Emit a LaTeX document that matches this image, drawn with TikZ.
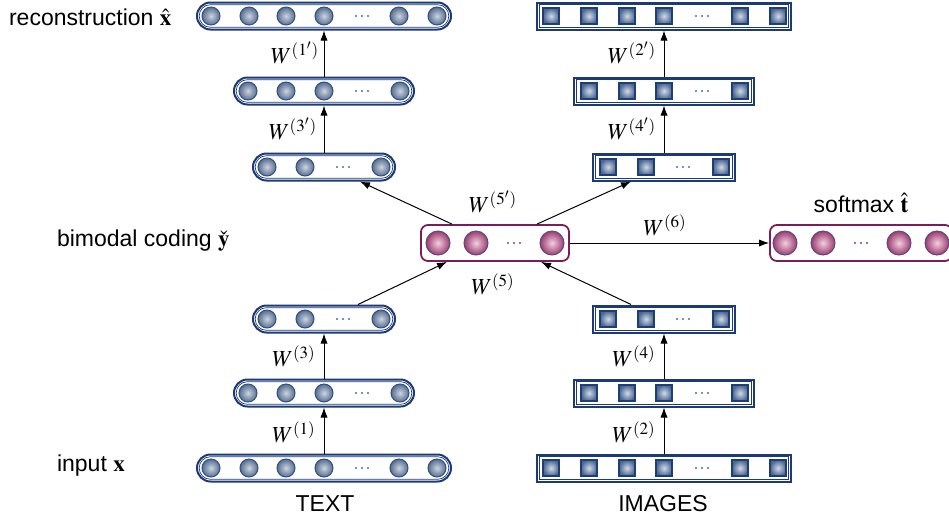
\documentclass[tikz,border=0pt]{standalone}
\usepackage{mathptmx}
\usepackage{fontspec}
\setmainfont{Liberation Sans}
\usetikzlibrary{arrows.meta}
\definecolor{tline}{HTML}{1C3A78}
\definecolor{ballin}{HTML}{CDD4DE}
\definecolor{ballout}{HTML}{566E92}
\definecolor{ballline}{HTML}{33507E}
\definecolor{sqin}{HTML}{D2D9E3}
\definecolor{sqout}{HTML}{4A6893}
\definecolor{sqline}{HTML}{1F3D76}
\definecolor{pin}{HTML}{F2CFE0}
\definecolor{pout}{HTML}{9C3C70}
\definecolor{pline}{HTML}{5A4C80}
\definecolor{pbox}{HTML}{7A1D5A}
\definecolor{dotc}{HTML}{4E6C9C}
\definecolor{pdot}{HTML}{A0306C}
\newcommand\myballs[2]{\foreach \xx in {#2} {\shadedraw[inner color=ballin, outer color=ballout, draw=ballline, line width=0.5pt] (\xx,#1) circle (4.5pt);}}
\newcommand\mysquares[2]{\foreach \xx in {#2} {\shadedraw[inner color=sqin, outer color=sqout, draw=sqline, line width=0.9pt] (\xx-8,#1-8) rectangle (\xx+8,#1+8);}}
\newcommand\mypballs[2]{\foreach \xx in {#2} {\shadedraw[inner color=pin, outer color=pout, draw=pline, line width=0.5pt] (\xx,#1) circle (6pt);}}
\newcommand\mydots[3]{\foreach \dd in {-6,0,6} {\fill[#3] (#1+\dd,#2) circle (0.6pt);}}
% text row: name, x, y, width
\newcommand\trownode[4]{%
  \node[trow, minimum width=#4] (#1) at (#2,#3) {};
  \draw[tline, line width=0.35pt, rounded corners=5.6pt] ([xshift=1.6pt,yshift=-1.6pt]#1.north west) rectangle ([xshift=-1.6pt,yshift=1.6pt]#1.south east);}
\newcommand\irownode[4]{%
  \node[irow, minimum width=#4] (#1) at (#2,#3) {};
  \draw[tline, line width=0.35pt] ([xshift=1.6pt,yshift=-1.6pt]#1.north west) rectangle ([xshift=-1.6pt,yshift=1.6pt]#1.south east);}
\begin{document}
\begin{tikzpicture}[x=0.5pt,y=-0.5pt,
  every node/.style={font=\fontsize{11.5}{14}\selectfont},
  trow/.style={draw=tline, line width=1pt, rounded corners=6.75pt, minimum height=13.5pt, inner sep=0pt},
  irow/.style={draw=tline, line width=1pt, minimum height=13.5pt, inner sep=0pt},
  brow/.style={draw=pbox, line width=0.9pt, rounded corners=3.5pt, minimum height=18pt, inner sep=0pt},
  arr/.style={-{Latex[length=5pt,width=3.6pt]}, line width=0.5pt}]
\useasboundingbox (0,0) rectangle (949,521);
% text column
\trownode{T1}{324}{16}{127pt}
\trownode{T2}{324}{91}{90pt}
\trownode{T3}{324}{167}{71pt}
\trownode{T4}{324}{319}{71pt}
\trownode{T5}{324}{393}{90pt}
\trownode{T6}{324}{468}{127pt}
% image column
\irownode{I1}{664}{16}{127pt}
\irownode{I2}{664}{91}{90pt}
\irownode{I3}{664}{167}{71pt}
\irownode{I4}{664}{319}{71pt}
\irownode{I5}{664}{393}{90pt}
\irownode{I6}{664}{468}{127pt}
% bimodal and softmax
\node[brow, minimum width=74pt] (B) at (495,243) {};
\node[brow, minimum width=91pt] (S) at (861,243) {};
% units
\myballs{16}{211,249,286,324,399,437}\mydots{362}{16}{dotc}
\myballs{91}{248,286,324,400}\mydots{362}{91}{dotc}
\myballs{167}{267,305,381}\mydots{343}{167}{dotc}
\myballs{319}{267,305,381}\mydots{343}{319}{dotc}
\myballs{393}{248,286,324,400}\mydots{362}{393}{dotc}
\myballs{468}{211,249,286,324,399,437}\mydots{362}{468}{dotc}
\mysquares{16}{551,589,627,664,740,778}\mydots{702}{16}{dotc}
\mysquares{91}{589,627,664,740}\mydots{702}{91}{dotc}
\mysquares{167}{608,646,721}\mydots{683}{167}{dotc}
\mysquares{319}{608,646,721}\mydots{683}{319}{dotc}
\mysquares{393}{589,627,664,740}\mydots{702}{393}{dotc}
\mysquares{468}{551,589,627,664,740,778}\mydots{702}{468}{dotc}
\mypballs{243}{438,476,552}\mydots{514}{243}{pdot}
\mypballs{243}{785,823,899,937}\mydots{861}{243}{pdot}
% arrows
\draw[arr] (T6.north) -- (T5.south);
\draw[arr] (T5.north) -- (T4.south);
\draw[arr] (T3.north) -- (T2.south);
\draw[arr] (T2.north) -- (T1.south);
\draw[arr] (I6.north) -- (I5.south);
\draw[arr] (I5.north) -- (I4.south);
\draw[arr] (I3.north) -- (I2.south);
\draw[arr] (I2.north) -- (I1.south);
\draw[arr] ([xshift=17pt]T4.north) -- ([xshift=-24pt]B.south);
\draw[arr] ([xshift=-16.5pt]I4.north) -- ([xshift=23pt]B.south);
\draw[arr] ([xshift=-21.5pt]B.north) -- ([xshift=18pt]T3.south);
\draw[arr] ([xshift=21pt]B.north) -- ([xshift=-16.5pt]I3.south);
\draw[arr] (B.east) -- (S.west);
% weight labels
\node (w1p) at (295,53) {$W^{(1')}$};
\node (w3p) at (293,129) {$W^{(3')}$};
\node (w3) at (294,356) {$W^{(3)}$};
\node (w1) at (294,432) {$W^{(1)}$};
\node (w2p) at (632,53) {$W^{(2')}$};
\node (w4p) at (632,129) {$W^{(4')}$};
\node (w4) at (634,356) {$W^{(4)}$};
\node (w2) at (634,432) {$W^{(2)}$};
\node (w5p) at (493,202) {$W^{(5')}$};
\node (w5) at (493,284) {$W^{(5)}$};
\node (w6) at (665,225) {$W^{(6)}$};
% side labels
\node[anchor=west] (lrec) at (2,17) {reconstruction $\hat{\mathbf{x}}$};
\node[anchor=west] (lbim) at (50,241) {bimodal coding $\check{\mathbf{y}}$};
\node[anchor=west] (linp) at (50,466) {input $\mathbf{x}$};
\node (lsm) at (861,203) {softmax $\hat{\mathbf{t}}$};
\node (ltext) at (325,504) {TEXT};
\node (limg) at (663,504) {IMAGES};
\end{tikzpicture}
\end{document}
